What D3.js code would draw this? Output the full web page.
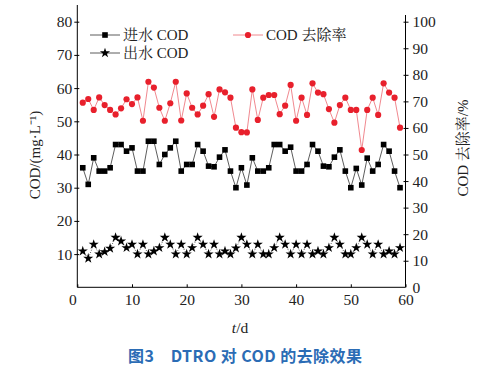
<!DOCTYPE html>
<html><head><meta charset="utf-8">
<script src="https://cdn.jsdelivr.net/npm/d3@7"></script>
<style>body{margin:0;background:#fff}svg{display:block}</style>
</head><body><svg id="c" width="486" height="372"></svg>
<script>
const days = [1,2,3,4,5,6,7,8,9,10,11,12,13,14,15,16,17,18,19,20,21,22,23,24,25,26,27,28,29,30,31,32,33,34,35,36,37,38,39,40,41,42,43,44,45,46,47,48,49,50,51,52,53,54,55,56,57,58,59];
const influentCOD = [36,31,39,35,35,36,43,43,41,42,35,35,44,44,37,40,42,44,35,37,37,43,41,36.5,36.3,39.2,41.4,35,30,36,30.8,39,35,35,36,43,43,41,42.2,35,35,37,43,41,36.5,36.3,39.2,41.4,35,30,35.8,30.8,38.9,35,37,43,41,35,30];
const effluentCOD = [10.9,8.7,12.9,10,10.7,11.7,15,13.9,11.9,12.9,10,12.9,10,10.9,11.9,15,12.9,10,12.9,10,11.9,15,12.9,10,12.9,10,10.9,10,11.8,15,12.9,10,12.9,10,10,11.9,15,12.9,10,12.9,10,12.9,10,10.9,10,11.9,15,12.9,10,10,11.9,15,12.9,10,12.9,10,10.9,10,11.9];
const removalRate = [69.5,70.9,66.8,71.5,68.6,66.8,65.1,67.4,70.8,69,71.5,62.7,77.4,75.2,67.6,62.7,69.3,77.4,62.8,73,67.6,65.1,68.4,72.7,64.2,74.5,73.4,71.4,60.1,58.4,58.3,74.5,63,71.4,72.4,72.4,65.2,68.4,76.2,62.7,71.4,64.9,76.8,73.3,72.7,67.1,62,68.6,71.4,66.8,66.8,51.7,66.8,71.4,64.9,76.8,73.3,71.4,60.1];
const xTicks = [0,10,20,30,40,50,60];
const yLeftTicks = [10,20,30,40,50,60,70,80];
const yRightTicks = [0,10,20,30,40,50,60,70,80,90,100];
const legendLabels = ["进水 COD","出水 COD","COD 去除率"];
const xTitle = "t/d";
const yLeftTitle = "COD/(mg·L⁻¹)";
const yRightTitle = "COD 去除率/%";
const caption = "图3　DTRO 对 COD 的去除效果";

const svg = d3.select("#c");
const serif = "'Liberation Serif','DejaVu Serif',serif";
const cjkSerif = "'Liberation Serif','Noto Serif CJK SC','Noto Sans CJK SC',serif";
const x = d3.scaleLinear().domain([0,60]).range([77.3,405.5]);
const yL = d3.scaleLinear().domain([0,80]).range([287.3,21.7]);
const yR = d3.scaleLinear().domain([0,100]).range([287.3,21.7]);

// axes lines
svg.append("line").attr("x1",x(0)).attr("x2",x(0)).attr("y1",5).attr("y2",yL(0)).attr("stroke","#000").attr("stroke-width",1);
svg.append("line").attr("x1",x(60)).attr("x2",x(60)).attr("y1",15).attr("y2",yL(0)).attr("stroke","#000").attr("stroke-width",1);
svg.append("line").attr("x1",x(0)).attr("x2",x(60)).attr("y1",yL(0)).attr("y2",yL(0)).attr("stroke","#000").attr("stroke-width",1);

// bottom axis
const gx = svg.append("g").attr("transform",`translate(0,${yL(0)})`)
  .call(d3.axisBottom(x).tickValues(xTicks).tickSize(-3).tickPadding(7).tickFormat(d3.format("d")));
gx.select(".domain").remove();
gx.selectAll("text").attr("font-family",serif).attr("font-size",15.5).attr("fill","#222");
gx.selectAll("text").filter(d=>d===0).attr("dx",-5);

// left axis
const gl = svg.append("g").attr("transform",`translate(${x(0)},0)`)
  .call(d3.axisLeft(yL).tickValues(yLeftTicks).tickSize(3).tickPadding(2).tickFormat(d3.format("d")));
gl.select(".domain").remove();
gl.selectAll("line").attr("x2",-3).attr("x1",2);
gl.selectAll("text").attr("font-family",serif).attr("font-size",15.5).attr("fill","#222");

// right axis
const gr = svg.append("g").attr("transform",`translate(${x(60)},0)`)
  .call(d3.axisRight(yR).tickValues(yRightTicks).tickSize(3).tickPadding(4).tickFormat(d3.format("d")));
gr.select(".domain").remove();
gr.selectAll("line").attr("x1",-2).attr("x2",3);
gr.selectAll("text").attr("font-family",serif).attr("font-size",15.5).attr("fill","#222");
gr.selectAll(".tick").filter(d=>d===0).select("line").remove();

// lines
const lineL = (arr)=>d3.line().x((d,i)=>x(days[i])).y(d=>yL(d))(arr);
svg.append("path").attr("d",lineL(influentCOD)).attr("fill","none").attr("stroke","#333").attr("stroke-width",0.8);
svg.append("path").attr("d",lineL(effluentCOD)).attr("fill","none").attr("stroke","#333").attr("stroke-width",0.8).attr("stroke-dasharray","1,1.5");
const lineR = d3.line().x((d,i)=>x(days[i])).y(d=>yR(d));
svg.append("path").attr("d",lineR(removalRate)).attr("fill","none").attr("stroke","#ec6a72").attr("stroke-width",0.8);

// markers
svg.append("g").selectAll("rect").data(influentCOD).join("rect")
  .attr("x",(d,i)=>x(days[i])-2.8).attr("y",d=>yL(d)-2.8).attr("width",5.6).attr("height",5.6).attr("fill","#000");
const star = d3.symbol().type(d3.symbolStar).size(32);
svg.append("g").selectAll("path").data(effluentCOD).join("path")
  .attr("d",star).attr("transform",(d,i)=>`translate(${x(days[i])},${yL(d)})`).attr("fill","#000");
svg.append("g").selectAll("circle").data(removalRate).join("circle")
  .attr("cx",(d,i)=>x(days[i])).attr("cy",d=>yR(d)).attr("r",3.1).attr("fill","#e8202c");

// legend
const lg = svg.append("g");
function legItem(x0,y0,label,kind){
  const col = kind==="circle" ? "#ec6a72" : "#333";
  lg.append("line").attr("x1",x0).attr("x2",x0+30).attr("y1",y0).attr("y2",y0).attr("stroke",col).attr("stroke-width",0.8);
  if(kind==="rect") lg.append("rect").attr("x",x0+15-2.8).attr("y",y0-2.8).attr("width",5.6).attr("height",5.6).attr("fill","#000");
  if(kind==="star") lg.append("path").attr("d",star).attr("transform",`translate(${x0+15},${y0})`).attr("fill","#000");
  if(kind==="circle") lg.append("circle").attr("cx",x0+15).attr("cy",y0).attr("r",3.1).attr("fill","#e8202c");
  lg.append("text").attr("x",x0+33).attr("y",y0+5).attr("font-family",cjkSerif).attr("font-size",15).attr("fill","#222").text(label);
}
legItem(90,35,legendLabels[0],"rect");
legItem(90,53,legendLabels[1],"star");
legItem(233,35,legendLabels[2],"circle");

// axis titles
svg.append("text").attr("transform","translate(40,155) rotate(-90)").attr("text-anchor","middle")
  .attr("font-family",cjkSerif).attr("font-size",15).attr("fill","#222").text(yLeftTitle);
svg.append("text").attr("transform","translate(468,148) rotate(-90)").attr("text-anchor","middle")
  .attr("font-family",cjkSerif).attr("font-size",15).attr("fill","#222").text(yRightTitle);
const xt = svg.append("text").attr("x",240).attr("y",333).attr("text-anchor","middle").attr("font-family",serif).attr("font-size",15.5).attr("fill","#222");
xt.append("tspan").attr("font-style","italic").text(xTitle.split("/")[0]);
xt.append("tspan").text("/"+xTitle.split("/")[1]);

// caption
svg.append("text").attr("x",128).attr("y",362)
  .attr("font-family","'Noto Sans CJK SC',sans-serif").attr("font-weight","bold").attr("font-size",16)
  .attr("textLength",234).attr("lengthAdjust","spacing")
  .attr("fill","#2b6cb5").text(caption);
</script></body></html>
